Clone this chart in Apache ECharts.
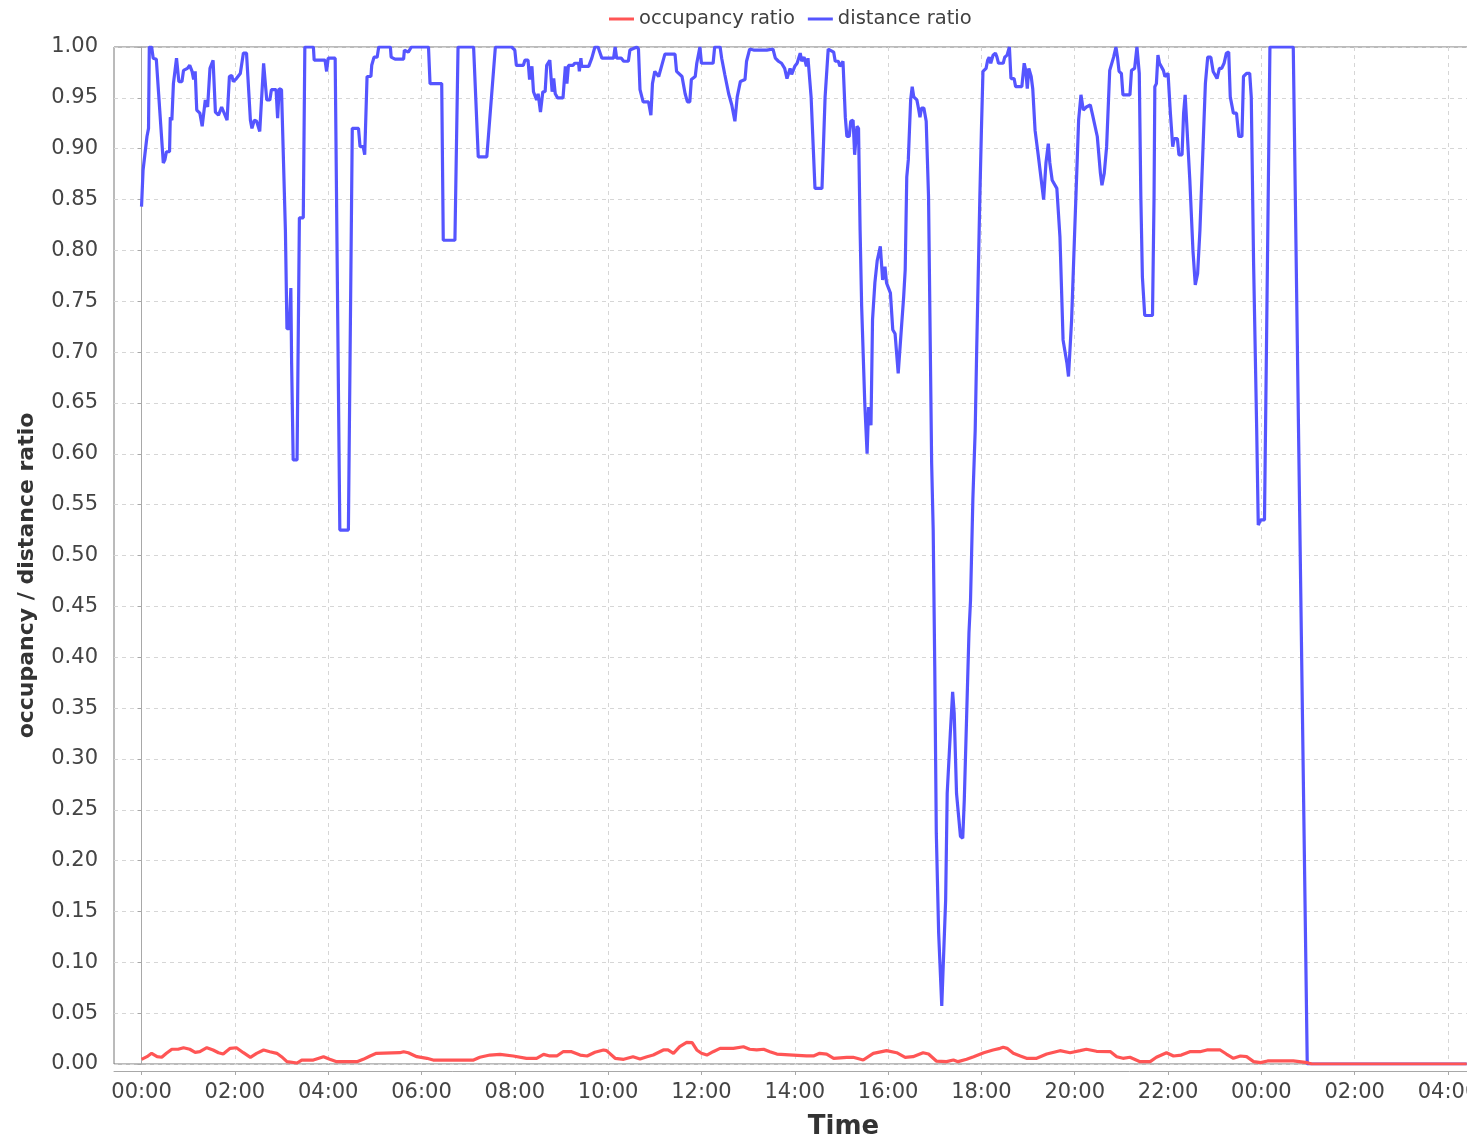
<!DOCTYPE html>
<html>
<head>
<meta charset="utf-8">
<title>occupancy / distance ratio</title>
<script src="https://cdn.jsdelivr.net/npm/echarts@6.0.0/dist/echarts.min.js"></script>
<style>
  html, body { margin: 0; padding: 0; background: #fff; overflow: hidden; }
  #chart { width: 1467px; height: 1143px; }
</style>
</head>
<body>
<div id="chart"></div>
<script>
  // times are minutes after 00:00 of the first day
  var distMinutes = [0, 2, 7, 9, 10, 13, 15, 19, 22, 28, 30, 32, 36, 37, 39, 41, 45, 48, 52, 54, 59, 62, 65, 67, 69, 71, 75, 78, 82, 85, 88, 92, 95, 99, 103, 110, 113, 116, 118, 122, 127, 131, 135, 140, 142, 145, 148, 152, 157, 161, 165, 167, 173, 175, 177, 180, 182, 185, 187, 190, 192, 193, 195, 200, 203, 208, 210, 221, 222, 236, 238, 240, 249, 255, 266, 271, 279, 281, 285, 287, 290, 295, 296, 299, 303, 305, 320, 321, 326, 337, 338, 343, 347, 369, 371, 386, 388, 403, 407, 427, 433, 444, 455, 476, 480, 482, 491, 493, 497, 499, 502, 504, 508, 510, 513, 516, 519, 521, 525, 528, 530, 532, 535, 542, 545, 547, 549, 555, 557, 562, 563, 565, 566, 575, 579, 583, 587, 592, 607, 609, 611, 617, 620, 626, 628, 637, 639, 641, 645, 652, 655, 657, 660, 665, 669, 673, 686, 688, 695, 699, 702, 705, 707, 712, 714, 718, 720, 735, 737, 744, 746, 750, 755, 759, 763, 766, 770, 776, 778, 782, 787, 804, 812, 815, 819, 823, 827, 830, 834, 836, 840, 843, 847, 849, 852, 855, 857, 861, 866, 875, 879, 883, 890, 892, 896, 898, 902, 905, 907, 910, 912, 915, 917, 920, 922, 924, 926, 930, 933, 935, 938, 940, 943, 946, 950, 953, 956, 958, 963, 966, 969, 973, 975, 977, 980, 982, 984, 986, 989, 991, 993, 995, 997, 999, 1001, 1003, 1006, 1009, 1012, 1016, 1018, 1020, 1022, 1025, 1029, 1034, 1036, 1040, 1043, 1045, 1048, 1053, 1056, 1058, 1061, 1064, 1066, 1068, 1069, 1072, 1074, 1078, 1080, 1082, 1086, 1088, 1090, 1092, 1095, 1098, 1100, 1102, 1108, 1110, 1113, 1116, 1118, 1122, 1124, 1132, 1135, 1137, 1139, 1141, 1144, 1146, 1149, 1151, 1153, 1155, 1160, 1163, 1166, 1168, 1171, 1173, 1177, 1181, 1185, 1190, 1192, 1196, 1200, 1205, 1208, 1211, 1215, 1220, 1223, 1229, 1233, 1235, 1238, 1241, 1245, 1250, 1253, 1255, 1257, 1260, 1262, 1271, 1273, 1277, 1280, 1283, 1285, 1287, 1290, 1300, 1302, 1303, 1305, 1307, 1309, 1314, 1316, 1320, 1323, 1326, 1328, 1332, 1334, 1338, 1340, 1342, 1344, 1348, 1352, 1355, 1358, 1361, 1365, 1368, 1371, 1375, 1378, 1383, 1386, 1389, 1392, 1395, 1398, 1400, 1404, 1408, 1411, 1415, 1417, 1421, 1425, 1427, 1430, 1434, 1436, 1439, 1444, 1451, 1481, 1499, 1704];
  var distValues = [0.843, 0.879, 0.912, 0.920, 1.0, 1.0, 0.989, 0.988, 0.954, 0.886, 0.889, 0.897, 0.897, 0.931, 0.928, 0.964, 0.989, 0.966, 0.966, 0.977, 0.979, 0.982, 0.976, 0.968, 0.976, 0.938, 0.935, 0.922, 0.948, 0.941, 0.979, 0.987, 0.936, 0.933, 0.941, 0.928, 0.971, 0.972, 0.966, 0.969, 0.974, 0.994, 0.994, 0.928, 0.920, 0.928, 0.927, 0.917, 0.984, 0.948, 0.948, 0.958, 0.958, 0.930, 0.959, 0.958, 0.959, 0.820, 0.723, 0.723, 0.763, 0.689, 0.594, 0.594, 0.832, 0.832, 1.0, 1.0, 0.987, 0.987, 0.976, 0.989, 0.989, 0.525, 0.525, 0.920, 0.920, 0.902, 0.902, 0.894, 0.971, 0.971, 0.982, 0.990, 0.990, 1.0, 1.0, 0.990, 0.988, 0.988, 0.997, 0.995, 1.0, 1.0, 0.964, 0.964, 0.810, 0.810, 1.0, 1.0, 0.892, 0.892, 1.0, 1.0, 0.997, 0.982, 0.982, 0.987, 0.987, 0.968, 0.981, 0.956, 0.948, 0.954, 0.936, 0.956, 0.956, 0.982, 0.987, 0.956, 0.969, 0.954, 0.950, 0.950, 0.981, 0.964, 0.982, 0.982, 0.984, 0.984, 0.976, 0.989, 0.981, 0.981, 0.989, 1.0, 1.0, 0.989, 0.989, 1.0, 0.989, 0.989, 0.986, 0.986, 0.997, 1.0, 0.998, 0.958, 0.946, 0.946, 0.933, 0.964, 0.976, 0.971, 0.982, 0.993, 0.993, 0.976, 0.971, 0.954, 0.946, 0.946, 0.968, 0.971, 0.984, 1.0, 0.984, 0.984, 1.0, 1.0, 0.989, 0.973, 0.954, 0.943, 0.927, 0.951, 0.966, 0.968, 0.986, 0.998, 0.997, 0.997, 0.998, 0.989, 0.986, 0.984, 0.979, 0.969, 0.979, 0.973, 0.981, 0.984, 0.994, 0.986, 0.990, 0.981, 0.989, 0.951, 0.861, 0.861, 0.951, 0.998, 0.995, 0.986, 0.986, 0.981, 0.986, 0.931, 0.912, 0.912, 0.927, 0.928, 0.894, 0.922, 0.920, 0.820, 0.745, 0.650, 0.600, 0.646, 0.628, 0.732, 0.768, 0.790, 0.804, 0.771, 0.784, 0.768, 0.758, 0.722, 0.718, 0.679, 0.679, 0.722, 0.754, 0.781, 0.872, 0.889, 0.948, 0.961, 0.951, 0.950, 0.948, 0.940, 0.931, 0.940, 0.940, 0.927, 0.853, 0.591, 0.525, 0.391, 0.227, 0.129, 0.057, 0.161, 0.266, 0.325, 0.366, 0.345, 0.266, 0.224, 0.222, 0.260, 0.342, 0.424, 0.456, 0.522, 0.555, 0.623, 0.705, 0.853, 0.918, 0.976, 0.979, 0.987, 0.990, 0.984, 0.992, 0.994, 0.990, 0.984, 0.984, 0.990, 0.992, 1.0, 0.969, 0.969, 0.961, 0.961, 0.984, 0.977, 0.959, 0.979, 0.971, 0.959, 0.918, 0.917, 0.894, 0.895, 0.850, 0.886, 0.905, 0.886, 0.869, 0.868, 0.861, 0.813, 0.712, 0.689, 0.676, 0.732, 0.820, 0.928, 0.953, 0.938, 0.941, 0.943, 0.933, 0.912, 0.876, 0.864, 0.876, 0.902, 0.977, 0.990, 1.0, 0.990, 0.976, 0.974, 0.953, 0.953, 0.977, 0.979, 1.0, 0.974, 0.853, 0.774, 0.736, 0.736, 0.853, 0.961, 0.964, 0.992, 0.984, 0.977, 0.971, 0.974, 0.935, 0.902, 0.910, 0.910, 0.894, 0.894, 0.935, 0.953, 0.925, 0.869, 0.800, 0.766, 0.777, 0.820, 0.902, 0.964, 0.990, 0.990, 0.976, 0.969, 0.979, 0.979, 0.984, 0.994, 0.995, 0.951, 0.935, 0.935, 0.912, 0.912, 0.971, 0.974, 0.974, 0.951, 0.787, 0.623, 0.530, 0.535, 0.535, 1.0, 1.0, 0.0, 0.0];

  var occMinutes = [0, 7, 13, 20, 26, 32, 39, 47, 54, 62, 69, 75, 84, 92, 99, 105, 114, 122, 131, 140, 148, 157, 165, 174, 180, 187, 200, 206, 221, 234, 242, 251, 277, 285, 294, 302, 332, 337, 343, 354, 367, 375, 427, 435, 448, 461, 478, 495, 508, 517, 525, 534, 542, 553, 564, 573, 583, 594, 598, 609, 620, 632, 641, 650, 658, 671, 677, 684, 692, 701, 708, 714, 720, 727, 735, 744, 761, 774, 782, 791, 800, 808, 817, 838, 855, 864, 872, 881, 890, 907, 915, 928, 941, 958, 971, 982, 992, 1005, 1012, 1022, 1035, 1044, 1050, 1061, 1070, 1083, 1095, 1104, 1108, 1113, 1121, 1130, 1138, 1151, 1164, 1181, 1194, 1207, 1215, 1228, 1246, 1254, 1262, 1271, 1284, 1297, 1305, 1318, 1327, 1337, 1348, 1361, 1370, 1387, 1395, 1404, 1413, 1421, 1430, 1439, 1448, 1481, 1499, 1505, 1704];
  var occValues = [0.0046, 0.0072, 0.0105, 0.0072, 0.0066, 0.0105, 0.0145, 0.0145, 0.0160, 0.0145, 0.0115, 0.0121, 0.0160, 0.0138, 0.0111, 0.0098, 0.0154, 0.0160, 0.0111, 0.0066, 0.0105, 0.0138, 0.0121, 0.0105, 0.0072, 0.0023, 0.0010, 0.0039, 0.0039, 0.0072, 0.0046, 0.0023, 0.0023, 0.0046, 0.0079, 0.0105, 0.0111, 0.0121, 0.0111, 0.0072, 0.0056, 0.0039, 0.0039, 0.0066, 0.0088, 0.0095, 0.0079, 0.0056, 0.0056, 0.0095, 0.0079, 0.0079, 0.0121, 0.0121, 0.0088, 0.0079, 0.0115, 0.0138, 0.0131, 0.0056, 0.0046, 0.0072, 0.0049, 0.0072, 0.0088, 0.0138, 0.0138, 0.0105, 0.0170, 0.0213, 0.0210, 0.0138, 0.0105, 0.0088, 0.0121, 0.0154, 0.0154, 0.0170, 0.0145, 0.0138, 0.0145, 0.0121, 0.0098, 0.0088, 0.0079, 0.0079, 0.0105, 0.0098, 0.0056, 0.0066, 0.0066, 0.0039, 0.0105, 0.0131, 0.0111, 0.0066, 0.0072, 0.0111, 0.0098, 0.0029, 0.0023, 0.0039, 0.0023, 0.0046, 0.0072, 0.0111, 0.0138, 0.0154, 0.0165, 0.0154, 0.0105, 0.0079, 0.0056, 0.0056, 0.0098, 0.0131, 0.0111, 0.0131, 0.0145, 0.0125, 0.0121, 0.0072, 0.0056, 0.0066, 0.0023, 0.0023, 0.0066, 0.0111, 0.0079, 0.0088, 0.0121, 0.0121, 0.0138, 0.0138, 0.0098, 0.0056, 0.0079, 0.0072, 0.0023, 0.0013, 0.0030, 0.0030, 0.0013, 0.0, 0.0];

  // tick marks every two hours, 00:00 .. 04:00 next day
  var tickMinutes = [0, 120, 240, 360, 480, 600, 720, 840, 960, 1080, 1200, 1320, 1440, 1560, 1680];

  var font = 'DejaVu Sans';

  function pairs(xs, ys) {
    var out = [];
    for (var i = 0; i < xs.length; i++) {
      out.push([xs[i], ys[i]]);
    }
    return out;
  }

  function clock(m) {
    var h = Math.floor(m / 60) % 24;
    var mm = Math.round(m % 60);
    return (h < 10 ? '0' : '') + h + ':' + (mm < 10 ? '0' : '') + mm;
  }

  var chart = echarts.init(document.getElementById('chart'));
  chart.setOption({
    animation: false,
    backgroundColor: '#fff',
    legend: {
      left: 604,
      top: 4,
      icon: 'rect',
      itemWidth: 25,
      itemHeight: 3,
      itemGap: 13,
      textStyle: { fontFamily: font, fontSize: 19.5, color: '#404040' },
      data: ['occupancy ratio', 'distance ratio']
    },
    grid: {
      left: 114,
      right: -1,
      top: 47,
      bottom: 79,
      outerBoundsMode: 'none',
      containLabel: false,
      show: true,
      backgroundColor: '#fff',
      borderColor: '#777',
      borderWidth: 1
    },
    xAxis: {
      type: 'value',
      min: -35.4,
      max: 1705.7,
      offset: 7,
      axisLine: { show: true, onZero: false, lineStyle: { color: '#a8a8a8' } },
      axisTick: { show: true, customValues: tickMinutes, length: 4, lineStyle: { color: '#a8a8a8' } },
      axisLabel: {
        customValues: tickMinutes,
        formatter: clock,
        fontFamily: font,
        fontSize: 21,
        color: '#444',
        margin: 11,
        hideOverlap: false
      },
      splitLine: { show: true, lineStyle: { type: [4, 4], color: '#d6d6d6' } },
      name: 'Time',
      nameLocation: 'middle',
      nameGap: 43,
      nameTextStyle: { fontFamily: font, fontSize: 26, fontWeight: 'bold', color: '#333', padding: [0, 0, 0, 105] }
    },
    yAxis: {
      type: 'value',
      min: 0,
      max: 1,
      interval: 0.05,
      offset: 6,
      axisLine: { show: true, lineStyle: { color: '#a8a8a8' } },
      axisTick: { show: true, length: 4, lineStyle: { color: '#a8a8a8' } },
      axisLabel: {
        formatter: function (v) { return v.toFixed(2); },
        fontFamily: font,
        fontSize: 21,
        color: '#444',
        margin: 10
      },
      splitLine: { show: true, lineStyle: { type: [4, 4], color: '#d6d6d6' } },
      name: 'occupancy / distance ratio',
      nameLocation: 'middle',
      nameGap: 70,
      nameTextStyle: { fontFamily: font, fontSize: 22, fontWeight: 'bold', color: '#333', padding: [0, 40, 0, 0] }
    },
    series: [
      {
        name: 'occupancy ratio',
        type: 'line',
        data: pairs(occMinutes, occValues),
        showSymbol: false,
        color: '#ff5555',
        lineStyle: { color: '#ff5555', width: 3.2 },
        z: 3
      },
      {
        name: 'distance ratio',
        type: 'line',
        data: pairs(distMinutes, distValues),
        showSymbol: false,
        color: '#5555ff',
        lineStyle: { color: '#5555ff', width: 3.2 },
        z: 2
      }
    ]
  });
</script>
</body>
</html>
